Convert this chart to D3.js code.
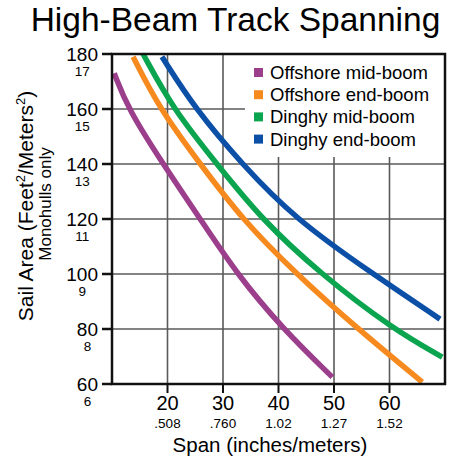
<!DOCTYPE html>
<html>
<head>
<meta charset="utf-8">
<script src="https://cdn.jsdelivr.net/npm/d3@7"></script>
<style>
    body { margin: 0; background: #fff; }
    svg { display: block; font-family: "Liberation Sans", Arial, Helvetica, sans-serif; }
</style>
</head>
<body>
<div id="span_chart"></div>
<script>
// Series names and colours (legend order)
const seriesNames = ["Offshore mid-boom", "Offshore end-boom", "Dinghy mid-boom", "Dinghy end-boom"];
const seriesColors = ["#9b3f8c", "#f78a1f", "#0aa54e", "#0b4fa6"];

// [span inches, sail area ft2]
const offshoreMid = [[10.4, 173], [12.9, 160], [19.2, 140], [25.9, 120], [32.5, 100], [40.8, 80], [49.7, 62.5]];
const offshoreEnd = [[13.8, 179], [18.6, 160], [25.9, 140], [33.4, 120], [43.2, 100], [54.3, 80], [65.9, 60.7]];
const dinghyMid = [[15.6, 180], [21.0, 160], [28.9, 140], [36.9, 120], [47.6, 100], [60.6, 80], [69.5, 69.8]];
const dinghyEnd = [[19.0, 179], [25.0, 160], [33.4, 140], [43.0, 120], [57.0, 100], [69.1, 83.6]];

// Tick labels
const xTicks = [20, 30, 40, 50, 60];
const xSubLabels = [".508", ".760", "1.02", "1.27", "1.52"];
const yTicks = [60, 80, 100, 120, 140, 160, 180];
const ySubLabels = ["6", "8", "9", "11", "13", "15", "17"];

function create_span_chart(width, height) {
    var margin = { top: 54, right: 15, bottom: 76, left: 112 };
    const innerWidth = width - margin.left - margin.right;
    const innerHeight = height - margin.top - margin.bottom;

    var svg = d3.select("#span_chart").append("svg")
        .attr("width", width)
        .attr("height", height);

    var g = svg.append("g")
        .attr("transform", "translate(" + margin.left + "," + margin.top + ")");

    var x = d3.scaleLinear().domain([10, 70]).range([0, innerWidth]);
    var y = d3.scaleLinear().domain([60, 180]).range([innerHeight, 0]);

    // Title
    svg.append("text")
        .attr("x", 235.5)
        .attr("y", 31)
        .attr("text-anchor", "middle")
        .style("font-size", "33.5px")
        .text("High-Beam Track Spanning");

    // Grid lines
    g.selectAll(".vgrid")
        .data(xTicks)
        .enter().append("line")
        .attr("x1", d => x(d)).attr("x2", d => x(d))
        .attr("y1", 0).attr("y2", innerHeight)
        .attr("stroke", "#5a5a5a").attr("stroke-width", 1.6);
    g.selectAll(".hgrid")
        .data(yTicks.slice(1, -1))
        .enter().append("line")
        .attr("x1", 0).attr("x2", innerWidth)
        .attr("y1", d => y(d)).attr("y2", d => y(d))
        .attr("stroke", "#5a5a5a").attr("stroke-width", 1.6);

    // Legend background hides the grid behind it
    var legendX = 245 - margin.left;
    g.append("rect")
        .attr("x", legendX)
        .attr("y", 0)
        .attr("width", innerWidth - legendX)
        .attr("height", 103)
        .attr("fill", "#fff");

    // Curves
    var line = d3.line()
        .x(d => x(d[0]))
        .y(d => y(d[1]))
        .curve(d3.curveBasis);
    var allSeries = [offshoreMid, offshoreEnd, dinghyMid, dinghyEnd];
    g.selectAll(".curve")
        .data(allSeries)
        .enter().append("path")
        .attr("class", "curve")
        .attr("d", line)
        .attr("fill", "none")
        .attr("stroke", (d, i) => seriesColors[i])
        .attr("stroke-width", 5.5);

    // Frame
    g.append("rect")
        .attr("width", innerWidth)
        .attr("height", innerHeight)
        .attr("fill", "none")
        .attr("stroke", "#111")
        .attr("stroke-width", 2.5);

    // Y ticks and labels
    var yTick = g.selectAll(".ytick")
        .data(yTicks)
        .enter().append("g")
        .attr("transform", d => "translate(0," + y(d) + ")");
    yTick.append("line")
        .attr("x1", -10).attr("x2", 0)
        .attr("stroke", "#111").attr("stroke-width", 2.5);
    yTick.append("text")
        .attr("class", "ymain")
        .attr("x", -14)
        .attr("y", 7)
        .attr("text-anchor", "end")
        .style("font-size", "19px")
        .text(d => d);
    yTick.each(function (d, i) {
        var w = d3.select(this).select(".ymain").node().getComputedTextLength();
        d3.select(this).append("text")
            .attr("x", -14 - w / 2)
            .attr("y", 22)
            .attr("text-anchor", "middle")
            .style("font-size", "13.5px")
            .text(ySubLabels[i]);
    });

    // X ticks and labels
    var xTick = g.selectAll(".xtick")
        .data(xTicks)
        .enter().append("g")
        .attr("transform", d => "translate(" + x(d) + "," + innerHeight + ")");
    xTick.append("line")
        .attr("y1", 0).attr("y2", 9)
        .attr("stroke", "#111").attr("stroke-width", 2);
    xTick.append("text")
        .attr("y", 26)
        .attr("text-anchor", "middle")
        .style("font-size", "20px")
        .text(d => d);
    xTick.append("text")
        .attr("y", 44)
        .attr("text-anchor", "middle")
        .style("font-size", "13.5px")
        .text((d, i) => xSubLabels[i]);

    // X axis title
    svg.append("text")
        .attr("x", 270)
        .attr("y", 452)
        .attr("text-anchor", "middle")
        .style("font-size", "20.5px")
        .text("Span (inches/meters)");

    // Y axis title, two lines
    var yTitle = svg.append("text")
        .attr("transform", "translate(33,206) rotate(-90)")
        .attr("text-anchor", "middle")
        .style("font-size", "21px");
    yTitle.append("tspan").text("Sail Area (Feet");
    yTitle.append("tspan").attr("dy", -8).style("font-size", "13px").text("2");
    yTitle.append("tspan").attr("dy", 8).text("/Meters");
    yTitle.append("tspan").attr("dy", -8).style("font-size", "13px").text("2");
    yTitle.append("tspan").attr("dy", 8).text(")");
    svg.append("text")
        .attr("transform", "translate(51,204) rotate(-90)")
        .attr("text-anchor", "middle")
        .style("font-size", "17px")
        .text("Monohulls only");

    // Legend
    var legend = g.selectAll(".legend")
        .data(seriesNames)
        .enter().append("g")
        .attr("class", "legend")
        .attr("transform", (d, i) => "translate(" + (254 - margin.left) + "," + (18.5 + i * 22.2) + ")");
    legend.append("rect")
        .attr("x", 0).attr("y", -4.5)
        .attr("width", 9).attr("height", 9)
        .attr("fill", (d, i) => seriesColors[i]);
    legend.append("text")
        .attr("x", 16)
        .attr("y", 6.5)
        .style("font-size", "18.5px")
        .text(d => d);
}

create_span_chart(460, 460);
</script>
</body>
</html>
